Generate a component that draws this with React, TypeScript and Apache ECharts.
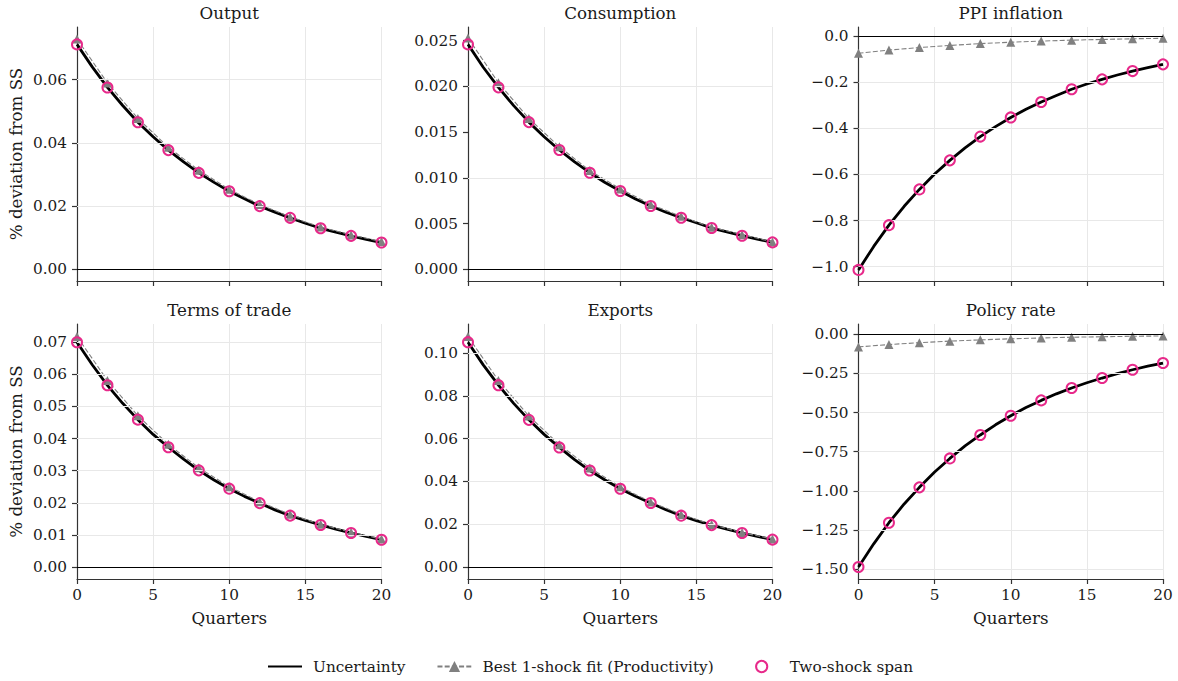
import React, { useEffect, useRef } from "react";
import * as echarts from "echarts";

// Quarters after the shock
const quarters = [0, 1, 2, 3, 4, 5, 6, 7, 8, 9, 10, 11, 12, 13, 14, 15, 16, 17, 18, 19, 20];
const evenQuarters = [0, 2, 4, 6, 8, 10, 12, 14, 16, 18, 20];

const panelTitles = ["Output", "Consumption", "PPI inflation", "Terms of trade", "Exports", "Policy rate"];

// Impulse responses to the uncertainty shock (every quarter)
const uncertaintyOutput = [0.0711, 0.0640, 0.0575, 0.0518, 0.0465, 0.0419, 0.0377, 0.0340, 0.0305, 0.0275, 0.0247, 0.0223, 0.0200, 0.0181, 0.0163, 0.0146, 0.0130, 0.0118, 0.0106, 0.0095, 0.0085];
const uncertaintyConsumption = [0.0246, 0.0221, 0.0199, 0.0179, 0.0161, 0.0145, 0.01305, 0.01175, 0.01057, 0.0095, 0.00857, 0.0077, 0.00693, 0.00625, 0.00565, 0.0051, 0.00452, 0.0041, 0.00368, 0.0033, 0.00295];
const uncertaintyPPI = [-1.014, -0.912, -0.820, -0.738, -0.665, -0.598, -0.539, -0.485, -0.436, -0.393, -0.353, -0.318, -0.286, -0.258, -0.231, -0.208, -0.188, -0.169, -0.152, -0.137, -0.123];
const uncertaintyToT = [0.0700, 0.0630, 0.0566, 0.0510, 0.0459, 0.0413, 0.0373, 0.0336, 0.0301, 0.0271, 0.0244, 0.0220, 0.0199, 0.0178, 0.0160, 0.0145, 0.0131, 0.0118, 0.0106, 0.0095, 0.0085];
const uncertaintyExports = [0.1051, 0.0945, 0.0850, 0.0765, 0.0688, 0.0620, 0.0559, 0.0502, 0.0451, 0.0407, 0.0366, 0.0331, 0.0299, 0.0268, 0.0240, 0.0217, 0.0196, 0.0177, 0.0159, 0.0143, 0.0128];
const uncertaintyPolicy = [-1.487, -1.339, -1.204, -1.084, -0.978, -0.880, -0.793, -0.713, -0.643, -0.578, -0.520, -0.468, -0.422, -0.380, -0.343, -0.309, -0.279, -0.251, -0.226, -0.203, -0.183];

// Best single-shock (productivity) fit, even quarters
const productivityOutput = [0.0728, 0.0589, 0.0477, 0.0386, 0.0313, 0.0253, 0.0205, 0.0166, 0.0134, 0.0109, 0.0088];
const productivityConsumption = [0.0253, 0.0204, 0.0165, 0.0134, 0.0108, 0.0088, 0.0071, 0.0058, 0.0046, 0.0038, 0.0030];
const productivityPPI = [-0.075, -0.061, -0.050, -0.041, -0.033, -0.027, -0.022, -0.018, -0.015, -0.012, -0.010];
const productivityToT = [0.0718, 0.0581, 0.0471, 0.0382, 0.0309, 0.0250, 0.0203, 0.0164, 0.0133, 0.0108, 0.0087];
const productivityExports = [0.1077, 0.0872, 0.0706, 0.0572, 0.0463, 0.0375, 0.0304, 0.0246, 0.0199, 0.0161, 0.0131];
const productivityPolicy = [-0.080, -0.065, -0.053, -0.043, -0.035, -0.028, -0.023, -0.018, -0.015, -0.012, -0.010];

// Two-shock span, even quarters
const spanOutput = [0.0711, 0.0575, 0.0465, 0.0377, 0.0305, 0.0247, 0.0200, 0.0163, 0.0130, 0.0106, 0.0085];
const spanConsumption = [0.0246, 0.0199, 0.0161, 0.01305, 0.01057, 0.00857, 0.00693, 0.00565, 0.00452, 0.00368, 0.00295];
const spanPPI = [-1.014, -0.820, -0.665, -0.539, -0.436, -0.353, -0.286, -0.231, -0.188, -0.152, -0.123];
const spanToT = [0.0700, 0.0566, 0.0459, 0.0373, 0.0301, 0.0244, 0.0199, 0.0160, 0.0131, 0.0106, 0.0085];
const spanExports = [0.1051, 0.0850, 0.0688, 0.0559, 0.0451, 0.0366, 0.0299, 0.0240, 0.0196, 0.0159, 0.0128];
const spanPolicy = [-1.487, -1.204, -0.978, -0.793, -0.643, -0.520, -0.422, -0.343, -0.279, -0.226, -0.183];

// Y-axis tick values per panel
const ticksOutput = [0, 0.02, 0.04, 0.06];
const ticksConsumption = [0, 0.005, 0.01, 0.015, 0.02, 0.025];
const ticksPPI = [-1.0, -0.8, -0.6, -0.4, -0.2, 0.0];
const ticksToT = [0, 0.01, 0.02, 0.03, 0.04, 0.05, 0.06, 0.07];
const ticksExports = [0, 0.02, 0.04, 0.06, 0.08, 0.1];
const ticksPolicy = [-1.5, -1.25, -1.0, -0.75, -0.5, -0.25, 0.0];

const uncertaintySeries = [uncertaintyOutput, uncertaintyConsumption, uncertaintyPPI, uncertaintyToT, uncertaintyExports, uncertaintyPolicy];
const productivitySeries = [productivityOutput, productivityConsumption, productivityPPI, productivityToT, productivityExports, productivityPolicy];
const spanSeries = [spanOutput, spanConsumption, spanPPI, spanToT, spanExports, spanPolicy];
const yTicks = [ticksOutput, ticksConsumption, ticksPPI, ticksToT, ticksExports, ticksPolicy];
const yDecimals = [2, 3, 1, 2, 2, 2];
const yLimits: [number, number][] = [
  [-0.00366, 0.0766],
  [-0.00127, 0.0265],
  [-1.062, 0.039],
  [-0.00374, 0.0757],
  [-0.0056, 0.1136],
  [-1.564, 0.0665],
];

const NAME_UNC = "Uncertainty";
const NAME_PROD = "Best 1-shock fit (Productivity)";
const NAME_SPAN = "Two-shock span";

const FONT = "DejaVu Serif";
const PINK = "#e7298a";
const GRAYLINE = "#808080";
const SPINE = "#333333";
const GRID = "#e8e8e8";
const TEXT = "#1a1a1a";

const LEFTS = [77, 468, 858.5];
const WIDTH = 304.5;
const TOPS = [27, 324];
const HEIGHTS = [254, 255];

function fmt(v: number, d: number): string {
  const s = Math.abs(v) < 1e-12 ? (0).toFixed(d) : v.toFixed(d);
  return s.replace("-", "\u2212");
}

export default function App() {
  const ref = useRef<HTMLDivElement>(null);

  useEffect(() => {
    if (!ref.current) return;
    const chart = echarts.init(ref.current, undefined, { renderer: "svg" });

    const grids: any[] = [];
    const xAxes: any[] = [];
    const yAxes: any[] = [];
    const series: any[] = [];
    const graphics: any[] = [];

    for (let p = 0; p < 6; p++) {
      const row = Math.floor(p / 3);
      const col = p % 3;
      const left = LEFTS[col];
      const top = TOPS[row];
      const height = HEIGHTS[row];
      grids.push({ left, top, width: WIDTH, height, containLabel: false });

      xAxes.push({
        gridIndex: p,
        type: "value",
        min: 0,
        max: 20,
        interval: 5,
        axisLine: { show: true, onZero: false, lineStyle: { color: SPINE, width: 1.2 } },
        axisTick: { show: true, length: 5, lineStyle: { color: SPINE, width: 1.2 } },
        axisLabel: {
          show: row === 1,
          margin: 8,
          fontFamily: FONT,
          fontSize: 15.3,
          color: TEXT,
          formatter: (v: number) => String(v),
        },
        splitLine: { show: true, lineStyle: { color: GRID, width: 1 } },
        name: row === 1 ? "Quarters" : "",
        nameLocation: "middle",
        nameGap: 30,
        nameTextStyle: { fontFamily: FONT, fontSize: 16.7, color: TEXT },
      });

      const d = yDecimals[p];
      yAxes.push({
        gridIndex: p,
        type: "value",
        min: yLimits[p][0],
        max: yLimits[p][1],
        axisLine: { show: true, onZero: false, lineStyle: { color: SPINE, width: 1.2 } },
        axisTick: { show: true, length: 5, customValues: yTicks[p], lineStyle: { color: SPINE, width: 1.2 } },
        axisLabel: {
          show: true,
          customValues: yTicks[p],
          margin: 10,
          fontFamily: FONT,
          fontSize: 15.3,
          color: TEXT,
          formatter: (v: number) => fmt(v, d),
        },
        splitLine: { show: false },
        name: col === 0 ? "% deviation from SS" : "",
        nameLocation: "middle",
        nameGap: 53,
        nameTextStyle: { fontFamily: FONT, fontSize: 16.7, color: TEXT },
      });

      // Horizontal grid lines and the zero reference line
      series.push({
        type: "line",
        xAxisIndex: p,
        yAxisIndex: p,
        data: [],
        z: 1,
        silent: true,
        markLine: {
          silent: true,
          symbol: ["none", "none"],
          label: { show: false },
          animation: false,
          data: [
            ...yTicks[p]
              .filter((v) => Math.abs(v) > 1e-12)
              .map((v) => ({ yAxis: v, lineStyle: { color: GRID, width: 1, type: "solid" } })),
            { yAxis: 0, lineStyle: { color: "#000000", width: 1.1, type: "solid" } },
          ],
        },
      });

      series.push({
        name: NAME_UNC,
        type: "line",
        xAxisIndex: p,
        yAxisIndex: p,
        data: quarters.map((q, i) => [q, uncertaintySeries[p][i]]),
        symbol: "none",
        showSymbol: false,
        lineStyle: { color: "#000000", width: 2.8 },
        itemStyle: { color: "#000000" },
        z: 3,
      });

      series.push({
        name: NAME_PROD,
        type: "line",
        xAxisIndex: p,
        yAxisIndex: p,
        data: evenQuarters.map((q, i) => [q, productivitySeries[p][i]]),
        symbol: "triangle",
        symbolSize: 9,
        itemStyle: { color: GRAYLINE },
        lineStyle: { color: GRAYLINE, width: 1.1, type: [5, 2.2] },
        z: 4,
      });

      series.push({
        name: NAME_SPAN,
        type: "line",
        xAxisIndex: p,
        yAxisIndex: p,
        data: evenQuarters.map((q, i) => [q, spanSeries[p][i]]),
        symbol: "circle",
        symbolSize: 10,
        itemStyle: { color: "rgba(0,0,0,0)", borderColor: PINK, borderWidth: 2 },
        lineStyle: { width: 0, opacity: 0 },
        z: 5,
      });

      graphics.push({
        type: "text",
        x: left + WIDTH / 2,
        y: row === 0 ? 12.7 : 310,
        style: {
          text: panelTitles[p],
          font: `16.7px "${FONT}"`,
          fill: TEXT,
          align: "center",
          verticalAlign: "middle",
        },
      });
    }

    chart.setOption({
      animation: false,
      backgroundColor: "#ffffff",
      grid: grids,
      xAxis: xAxes,
      yAxis: yAxes,
      series,
      graphic: graphics,
      legend: {
        data: [
          { name: NAME_UNC, itemStyle: { opacity: 0 } },
          { name: NAME_PROD },
          { name: NAME_SPAN },
        ],
        left: 267,
        top: 659,
        padding: 0,
        itemWidth: 34,
        itemHeight: 14,
        itemGap: 31,
        textStyle: { fontFamily: FONT, fontSize: 15.3, color: TEXT, padding: [0, 0, 0, 6] },
        selectedMode: false,
      },
    });

    return () => chart.dispose();
  }, []);

  return (
    <div
      ref={ref}
      style={{ position: "fixed", left: 0, top: 0, width: 1178, height: 681, background: "#fff" }}
    />
  );
}
